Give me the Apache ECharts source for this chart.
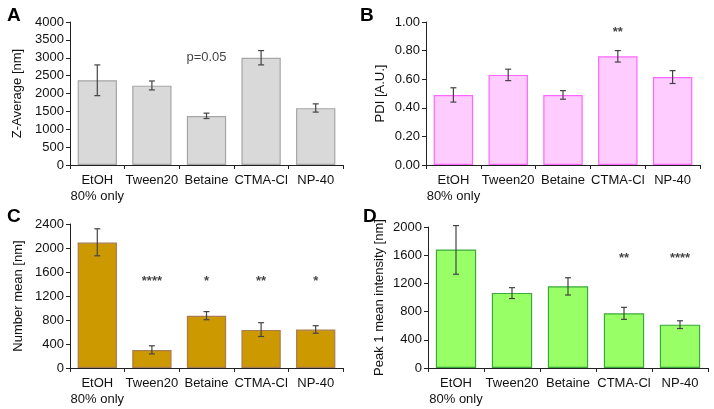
<!DOCTYPE html>
<html>
<head>
<meta charset="utf-8">
<script src="https://cdn.jsdelivr.net/npm/echarts@6/dist/echarts.min.js"></script>
<style>
html,body{margin:0;padding:0;background:#fff;}
#c{width:714px;height:409px;}
</style>
</head>
<body>
<div id="c"></div>
<script>
const categories = ['EtOH\n80% only', 'Tween20', 'Betaine', 'CTMA-Cl', 'NP-40'];

// Panel A: Z-Average [nm]
const zAvg = [2370, 2220, 1370, 3000, 1590];
const zAvgLow = [1940, 2100, 1300, 2800, 1480];
const zAvgHigh = [2800, 2350, 1450, 3200, 1710];
const zAvgNotes = ['', '', 'p=0.05', '', ''];
const zAvgNoteY = 3000;

// Panel B: PDI [A.U.]
const pdi = [0.49, 0.63, 0.49, 0.76, 0.615];
const pdiLow = [0.44, 0.59, 0.46, 0.72, 0.57];
const pdiHigh = [0.54, 0.67, 0.52, 0.80, 0.66];
const pdiNotes = ['', '', '', '**', ''];
const pdiNoteY = 0.93;

// Panel C: Number mean [nm]
const numMean = [2090, 300, 870, 635, 640];
const numMeanLow = [1870, 235, 805, 525, 580];
const numMeanHigh = [2320, 370, 940, 755, 705];
const numMeanNotes = ['', '****', '*', '**', '*'];
const numMeanNoteY = 1450;

// Panel D: Peak 1 mean intensity [nm]
const peak1 = [1680, 1065, 1160, 775, 615];
const peak1Low = [1330, 985, 1035, 690, 560];
const peak1High = [2020, 1140, 1280, 860, 670];
const peak1Notes = ['', '', '', '**', '****'];
const peak1NoteY = 1560;

const panels = [
  {letter:'A', name:'Z-Average [nm]', vals:zAvg, lo:zAvgLow, hi:zAvgHigh, notes:zAvgNotes, noteY:zAvgNoteY,
   max:4000, interval:500, dec:0, fill:'#d9d9d9', border:'#a6a6a6', noteBold:false,
   grid:{left:70, top:22, width:273, height:143}, nameGap:46, letterPos:[7,6]},
  {letter:'B', name:'PDI [A.U.]', vals:pdi, lo:pdiLow, hi:pdiHigh, notes:pdiNotes, noteY:pdiNoteY,
   max:1, interval:0.2, dec:2, fill:'#ffccff', border:'#ff66ff', noteBold:true,
   grid:{left:426, top:22, width:274, height:143}, nameGap:39, letterPos:[360,6]},
  {letter:'C', name:'Number mean [nm]', vals:numMean, lo:numMeanLow, hi:numMeanHigh, notes:numMeanNotes, noteY:numMeanNoteY,
   max:2400, interval:400, dec:0, fill:'#cc9900', border:'#a97c50', noteBold:true,
   grid:{left:70, top:224, width:273, height:144}, nameGap:45, letterPos:[7,207]},
  {letter:'D', name:'Peak 1 mean intensity [nm]', vals:peak1, lo:peak1Low, hi:peak1High, notes:peak1Notes, noteY:peak1NoteY,
   max:2000, interval:400, dec:0, fill:'#99ff66', border:'#3aa83a', noteBold:true,
   grid:{left:428, top:227, width:280, height:141}, nameGap:42, letterPos:[363,207]}
];

const FONT = 'Liberation Sans, Arial, sans-serif';
const grid = [], xAxis = [], yAxis = [], series = [], graphic = [];

panels.forEach((p, i) => {
  grid.push(Object.assign({containLabel:false}, p.grid));
  xAxis.push({
    type:'category', gridIndex:i, data:categories, boundaryGap:true, z:5,
    axisLine:{lineStyle:{color:'#222', width:1}},
    axisTick:{show:true, alignWithLabel:false, length:4, lineStyle:{color:'#222'}},
    axisLabel:{color:'#111', fontSize:13, fontFamily:FONT, margin:7, lineHeight:16, interval:0}
  });
  yAxis.push({
    type:'value', gridIndex:i, min:0, max:p.max, interval:p.interval,
    name:p.name, nameLocation:'middle', nameGap:p.nameGap, nameRotate:90,
    nameTextStyle:{color:'#111', fontSize:13, fontFamily:FONT},
    axisLine:{show:true, lineStyle:{color:'#222', width:1}},
    axisTick:{show:true, length:4, lineStyle:{color:'#222'}},
    splitLine:{show:false},
    axisLabel:{color:'#111', fontSize:13, fontFamily:FONT, margin:6,
      formatter: v => v.toFixed(p.dec)}
  });
  series.push({
    type:'bar', xAxisIndex:i, yAxisIndex:i, data:p.vals, barWidth:'72%', z:2,
    itemStyle:{color:p.fill, borderColor:p.border, borderWidth:1.2},
    silent:true, animation:false
  });
  series.push({
    type:'custom', xAxisIndex:i, yAxisIndex:i, animation:false, silent:true, z:10,
    data:p.vals.map((v, k) => [k, p.lo[k], p.hi[k]]),
    encode:{x:0, y:[1,2]},
    renderItem:(params, api) => {
      const lo = api.coord([api.value(0), api.value(1)]);
      const hi = api.coord([api.value(0), api.value(2)]);
      const w = 3;
      const st = {stroke:'#444', lineWidth:1.2};
      return {type:'group', children:[
        {type:'line', shape:{x1:lo[0], y1:lo[1], x2:hi[0], y2:hi[1]}, style:st},
        {type:'line', shape:{x1:lo[0]-w, y1:lo[1], x2:lo[0]+w, y2:lo[1]}, style:st},
        {type:'line', shape:{x1:hi[0]-w, y1:hi[1], x2:hi[0]+w, y2:hi[1]}, style:st}
      ]};
    }
  });
  series.push({
    type:'scatter', xAxisIndex:i, yAxisIndex:i, symbolSize:0, animation:false, silent:true, z:11,
    data:p.notes.map((t, k) => t ? [k, p.noteY, t] : null).filter(d => d),
    label:{show:true, position:'inside', color:'#111', fontSize:13, fontFamily:FONT,
      fontWeight: p.noteBold ? 'bold' : 'normal',
      formatter: d => d.data[2]}
  });
  graphic.push({type:'text', left:p.letterPos[0], top:p.letterPos[1],
    style:{text:p.letter, font:'bold 19px ' + FONT, fill:'#000'}});
});

const chart = echarts.init(document.getElementById('c'), null, {renderer:'canvas'});
chart.setOption({animation:false, grid, xAxis, yAxis, series, graphic});
</script>
</body>
</html>
